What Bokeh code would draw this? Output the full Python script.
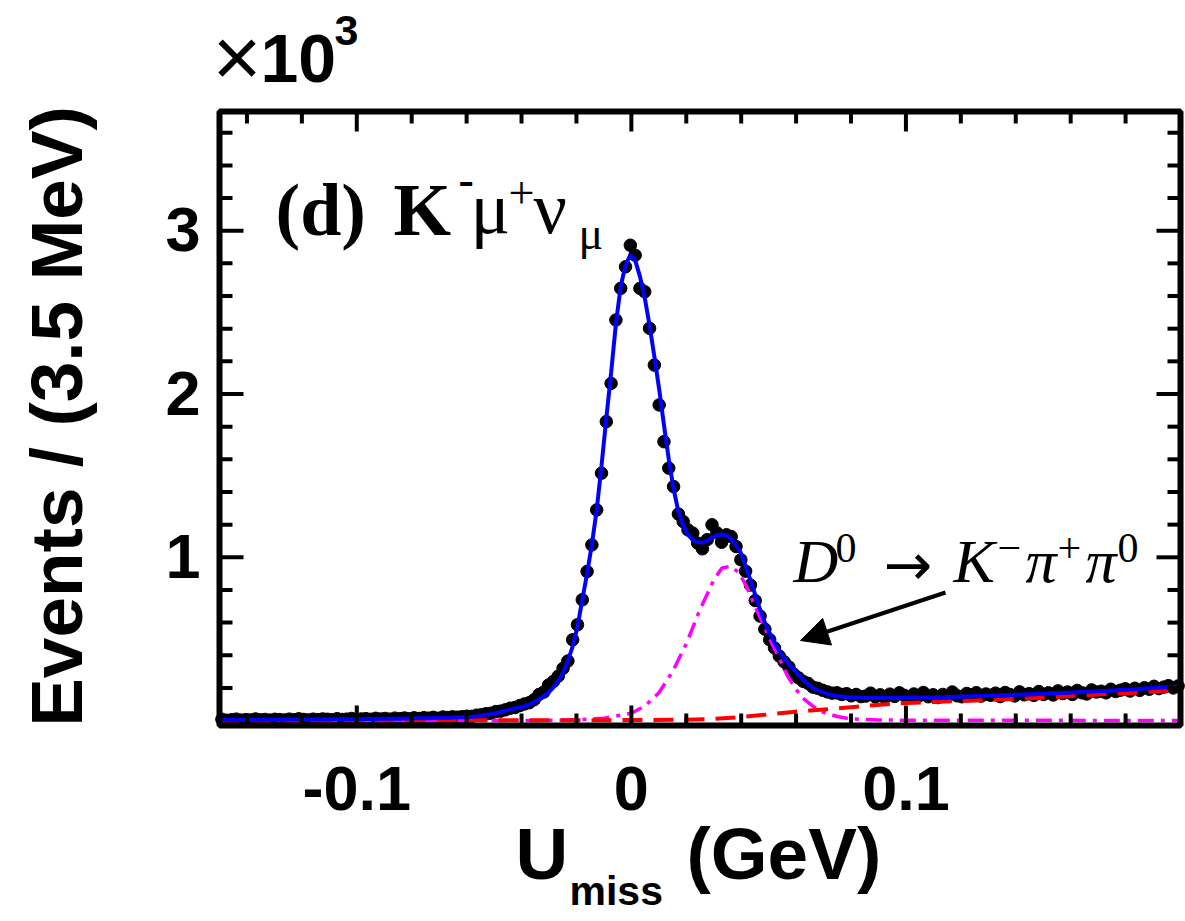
import numpy as np
from bokeh.plotting import figure
from bokeh.models import Range1d, Label, Arrow, NormalHead
from bokeh.core.properties import value
from bokeh.embed import file_html
from bokeh.resources import INLINE

# ---------------- data ----------------
X_LO, X_HI = -0.15, 0.20          # axis range (GeV)
Y_LO, Y_HI = -30, 3730            # axis range (events)
bin_width = 0.00175

counts = [
    8, 2, 5, 9, 3, 6, 4, 10, 5, 7,
    3, 8, 6, 4, 9, 5, 11, 7, 4, 9,
    6, 10, 8, 5, 12, 7, 9, 13, 6, 10,
    12, 8, 14, 10, 13, 9, 15, 12, 16, 11,
    17, 13, 18, 15, 20, 14, 22, 19, 23, 21,
    24, 27, 26, 33, 36, 42, 45, 55, 58, 66,
    76, 80, 92, 102, 110, 128, 160, 175, 218, 240,
    272, 320, 365, 495, 587, 740, 913, 1076, 1290, 1515,
    1831, 2065, 2453, 2647, 2779, 2911, 2850, 2647, 2626, 2402,
    2177, 1933, 1708, 1546, 1433, 1265, 1219, 1168, 1148, 1087,
    1052, 1108, 1199, 1150, 1092, 1138, 1127, 1066, 985, 915,
    830, 735, 640, 560, 495, 445, 395, 360, 328, 285,
    262, 240, 228, 205, 198, 186, 176, 168, 170, 160,
    165, 152, 160, 147, 150, 168, 145, 158, 140, 162,
    148, 170, 155, 143, 163, 150, 172, 146, 158, 141,
    160, 149, 175, 152, 146, 166, 158, 171, 150, 163,
    155, 168, 147, 172, 160, 151, 176, 158, 165, 154,
    178, 160, 170, 157, 182, 166, 175, 160, 185, 170,
    163, 188, 175, 180, 170, 192, 178, 186, 195, 181,
    198, 185, 201, 192, 210, 196, 205, 214, 200, 212,
]

fit_total = [
    3, 3, 3, 3, 4, 4, 4, 4, 4, 5,
    5, 5, 5, 5, 6, 6, 6, 6, 6, 7,
    7, 7, 7, 8, 8, 8, 8, 9, 9, 9,
    10, 10, 10, 11, 11, 11, 12, 12, 13, 13,
    14, 14, 15, 15, 16, 17, 17, 18, 19, 20,
    20, 22, 24, 27, 31, 35, 40, 46, 53, 60,
    67, 74, 80, 88, 99, 112, 130, 150, 173, 203,
    245, 292, 365, 455, 575, 740, 900, 1080, 1290, 1560,
    1850, 2130, 2430, 2660, 2790, 2850, 2820, 2720, 2590, 2420,
    2230, 2030, 1810, 1600, 1420, 1280, 1195, 1140, 1105, 1092,
    1090, 1100, 1120, 1135, 1140, 1135, 1112, 1075, 1027, 945,
    860, 770, 680, 600, 535, 478, 425, 385, 345, 315,
    280, 248, 222, 200, 186, 174, 163, 156, 151, 147,
    144, 142, 141, 140, 140, 139, 139, 139, 139, 139,
    139, 139, 140, 140, 140, 141, 141, 142, 142, 143,
    143, 144, 145, 146, 147, 148, 149, 150, 151, 152,
    153, 154, 155, 156, 157, 158, 159, 160, 161, 162,
    163, 164, 166, 167, 168, 169, 171, 172, 173, 175,
    176, 178, 179, 181, 182, 184, 185, 187, 189, 191,
    192, 194, 196, 198, 200, 202, 203, 205, 207, 209,
]

# D0 -> K- pi+ pi0 peaking component (magenta dash-dot)
peak_x = [-0.15, -0.03, -0.02, -0.01, 0.0, 0.005, 0.01, 0.015, 0.02, 0.025, 0.03,
          0.033, 0.036, 0.039, 0.042, 0.045, 0.048, 0.051, 0.054, 0.057, 0.06,
          0.063, 0.066, 0.07, 0.075, 0.08, 0.09, 0.1, 0.2]
peak_y = [0, 1, 5, 15, 45, 90, 170, 300, 470, 680, 860,
          935, 945, 910, 820, 700, 590, 480, 375, 270, 190,
          130, 90, 50, 25, 10, 4, 2, 1]

# other background (red dashed)
bkg_x = [-0.15, -0.1, -0.05, 0.0, 0.02, 0.03, 0.04, 0.05, 0.057, 0.065, 0.072,
         0.08, 0.087, 0.095, 0.1, 0.11, 0.12, 0.13, 0.14, 0.15, 0.16, 0.17,
         0.18, 0.19, 0.2]
bkg_y = [1, 1, 2, 3, 5, 10, 22, 38, 50, 62, 70,
         82, 92, 102, 108, 114, 120, 126, 132, 140, 150, 160,
         168, 178, 188]

x_major = [-0.1, 0.0, 0.1]
x_major_labels = ["-0.1", "0", "0.1"]
x_minor = [-0.14, -0.12, -0.08, -0.06, -0.04, -0.02, 0.02, 0.04, 0.06, 0.08,
           0.12, 0.14, 0.16, 0.18]
y_major = [1000, 2000, 3000]
y_major_labels = ["1", "2", "3"]
y_minor = [200, 400, 600, 800, 1200, 1400, 1600, 1800, 2200, 2400, 2600, 2800,
           3200, 3400, 3600]

bin_centers = X_LO + bin_width * (np.arange(len(counts)) + 0.5)

# ---------------- layout (pixels) ----------------
W, H = 1185, 921
FR_L, FR_R, FR_T, FR_B = 219, 1180, 111, 725     # frame line centres
sx = (FR_R - FR_L) / (X_HI - X_LO)               # px per GeV
sy = (FR_B - FR_T) / (Y_HI - Y_LO)               # px per event
xs = X_LO - FR_L / sx
xe = xs + W / sx
ye = Y_HI + FR_T / sy
ys = ye - H / sy
BASE = 0.37        # rendered baseline sits this many em below the anchor


def X(px):
    return xs + px / sx


def Y(py):
    return ye - py / sy


SANS = "Liberation Sans"
SERIF = "Liberation Serif"

p = figure(width=W, height=H, x_range=Range1d(xs, xe), y_range=Range1d(ys, ye),
           x_axis_location=None, y_axis_location=None, min_border=0,
           output_backend="svg", toolbar_location=None)
p.outline_line_color = None
p.grid.visible = False
p.background_fill_color = "white"
p.border_fill_color = "white"

# ---------------- data & fit ----------------
p.scatter(bin_centers, counts, size=12.5, color="black")
p.line(peak_x, peak_y, color="#ff00ff", line_width=3.5, line_dash="16 7 4 7")
p.line(bkg_x, bkg_y, color="#ff0000", line_width=4, line_dash="20 11")
p.line(bin_centers, fit_total, color="#0000ff", line_width=4)

# ---------------- frame & ticks ----------------
p.quad(left=X_LO, right=X_HI, bottom=Y_LO, top=Y_HI, fill_color=None,
       line_color="black", line_width=6)

MAJ_X, MIN_X = 20, 12
MAJ_Y, MIN_Y = 24, 13
nxM, nxm, nyM, nym = len(x_major), len(x_minor), len(y_major), len(y_minor)
p.segment(x0=x_major, y0=[Y_LO] * nxM, x1=x_major, y1=[Y_LO + MAJ_X / sy] * nxM,
          line_width=4, color="black")
p.segment(x0=x_minor, y0=[Y_LO] * nxm, x1=x_minor, y1=[Y_LO + MIN_X / sy] * nxm,
          line_width=4, color="black")
p.segment(x0=x_major, y0=[Y_HI] * nxM, x1=x_major, y1=[Y_HI - MAJ_X / sy] * nxM,
          line_width=4, color="black")
p.segment(x0=x_minor, y0=[Y_HI] * nxm, x1=x_minor, y1=[Y_HI - MIN_X / sy] * nxm,
          line_width=4, color="black")
p.segment(x0=[X_LO] * nyM, y0=y_major, x1=[X_LO + MAJ_Y / sx] * nyM, y1=y_major,
          line_width=4, color="black")
p.segment(x0=[X_LO] * nym, y0=y_minor, x1=[X_LO + MIN_Y / sx] * nym, y1=y_minor,
          line_width=4, color="black")
p.segment(x0=[X_HI] * nyM, y0=y_major, x1=[X_HI - MAJ_Y / sx] * nyM, y1=y_major,
          line_width=4, color="black")
p.segment(x0=[X_HI] * nym, y0=y_minor, x1=[X_HI - MIN_Y / sx] * nym, y1=y_minor,
          line_width=4, color="black")

# tick labels (baseline positions in px, corrected for rendering offset)
TICK_FS = 63
p.text(x=x_major, y=[Y(811 - BASE * TICK_FS)] * nxM, text=x_major_labels,
       text_font=value(SANS), text_font_style="bold", text_font_size=f"{TICK_FS}px",
       text_align="center", text_baseline="alphabetic", text_color="black")
p.text(x=[X(200)] * nyM, y=[v - (22.5 - BASE * TICK_FS) / sy for v in y_major],
       text=y_major_labels, text_font=value(SANS), text_font_style="bold",
       text_font_size=f"{TICK_FS}px", text_align="right",
       text_baseline="alphabetic", text_color="black")


def lab(px, py, text, font, fs, style="normal", rotated=False, align="left"):
    if rotated:
        px = px - BASE * fs
        angle = np.pi / 2
    else:
        py = py - BASE * fs
        angle = 0.0
    p.add_layout(Label(x=X(px), y=Y(py), text=text, text_font=font,
                       text_font_size=f"{fs}px", text_font_style=style,
                       text_color="black", text_align=align,
                       text_baseline="alphabetic", angle=angle))


# axis titles
lab(83, 416, "Events / (3.5 MeV)", SANS, 73, "bold", rotated=True, align="center")
lab(515, 880, "U", SANS, 73, "bold")
lab(569, 906, "miss", SANS, 41, "bold")
lab(686, 880, "(GeV)", SANS, 73, "bold")

# x 10^3 multiplier
lab(212, 88, "×", SANS, 84)
lab(260, 83, "10", SANS, 68, "bold")
lab(334, 46, "3", SANS, 43, "bold")

# panel label (d) K- mu+ nu_mu
lab(275, 237, "(d)", SERIF, 74, "bold")
lab(393, 237, "K", SERIF, 74, "bold")
lab(458, 196, "-", SERIF, 46, "bold")
lab(470, 235, "μ", SERIF, 74)
lab(508, 209, "+", SERIF, 46)
lab(533, 235, "ν", SERIF, 74)
lab(578, 250, "μ", SERIF, 46)

# D0 -> K- pi+ pi0 annotation
lab(793, 583, "D", SERIF, 62, "italic")
lab(835, 563, "0", SERIF, 42)
lab(883, 586, "→", "DejaVu Sans", 58)
lab(953, 583, "K", SERIF, 62, "italic")
lab(997, 563, "−", SERIF, 42)
lab(1025, 583, "π", SERIF, 62, "italic")
lab(1057, 563, "+", SERIF, 42)
lab(1085, 583, "π", SERIF, 62, "italic")
lab(1117, 563, "0", SERIF, 42)

p.add_layout(Arrow(end=NormalHead(size=28, fill_color="black", line_color="black"),
                   x_start=X(945), y_start=Y(592), x_end=X(800), y_end=Y(640),
                   line_width=4, line_color="black"))

open("out.html", "w").write(file_html(p, INLINE))
